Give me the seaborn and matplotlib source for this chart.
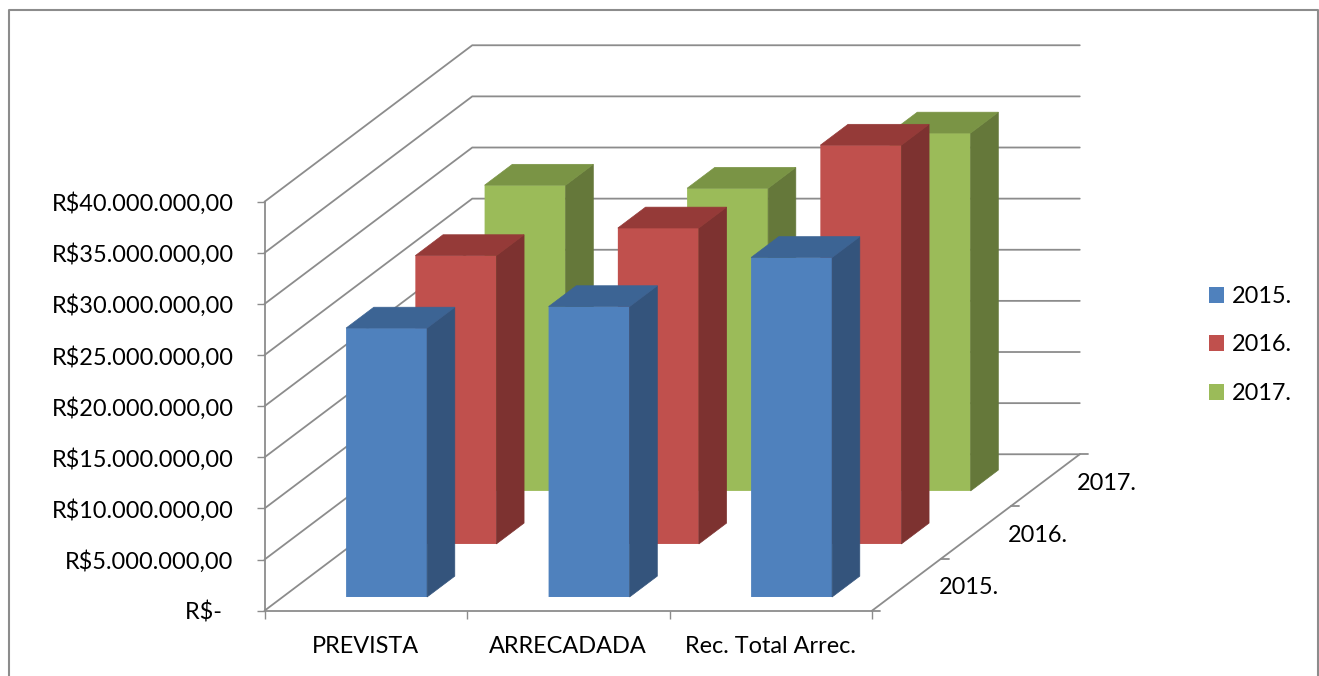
import matplotlib
matplotlib.use("Agg")
import matplotlib.pyplot as plt
from matplotlib.lines import Line2D
from matplotlib.patches import Patch
from matplotlib.transforms import Affine2D
import pandas as pd
import seaborn as sns

categories = ["PREVISTA", "ARRECADADA", "Rec. Total Arrec."]
series_names = ["2015.", "2016.", "2017."]
values_2015 = [26.3e6, 28.4e6, 33.2e6]
values_2016 = [28.2e6, 30.9e6, 39.0e6]
values_2017 = [29.9e6, 29.6e6, 35.0e6]
y_ticks = [0, 5e6, 10e6, 15e6, 20e6, 25e6, 30e6, 35e6, 40e6]
y_tick_labels = ["R$-  ", "R$5.000.000,00", "R$10.000.000,00", "R$15.000.000,00",
                 "R$20.000.000,00", "R$25.000.000,00", "R$30.000.000,00",
                 "R$35.000.000,00", "R$40.000.000,00"]

face_colors = ["#4F81BD", "#C0504D", "#9BBB59"]
top_colors = ["#3C6494", "#953A38", "#7A9445"]
side_colors = ["#34547C", "#7D3230", "#65783A"]
GRID = "#8C8C8C"
TEXT = "#000000"

W, H = 1319, 676
sns.set_style("white")
plt.rcParams["font.family"] = ["Lato", "DejaVu Sans"]
FS = 16.9

fig = plt.figure(figsize=(W / 100, H / 100), dpi=100, facecolor="white")
ax = fig.add_axes([264.5 / W, 1 - 610.7 / H, (872 - 264.5) / W, 409 / H])
ax.patch.set_alpha(0)

# oblique projection: one depth unit, in data units
DX = 0.342
DY = 5.1e6
BAR_START = 0.263
BAR_STEP_X = 1.0
BAR_STEP_Y = 1.017
BAR_DEPTH = 0.40
BAR_NUDGE = 0.013


def proj(x, y, d):
    return x + DX * d, y + DY * d


table = pd.DataFrame({
    "category": categories * 3,
    "series": [n for n in series_names for _ in categories],
    "value": values_2015 + values_2016 + values_2017,
})

# back wall and floor
for v in y_ticks:
    p0 = proj(-0.5, v, 0)
    p1 = proj(-0.5, v, 3)
    p2 = proj(2.5, v, 3)
    ax.plot([p0[0], p1[0], p2[0]], [p0[1], p1[1], p2[1]], color=GRID, lw=1.3,
            clip_on=False, zorder=1, solid_joinstyle="miter")
e0 = proj(2.5, 0, 0)
e1 = proj(2.5, 0, 3)
ax.plot([e0[0], e1[0]], [e0[1], e1[1]], color=GRID, lw=1.3, clip_on=False, zorder=1)

# depth axis ticks and labels
tick_len = 8 / 202.5
for d in range(4):
    p = proj(2.5, 0, d)
    ax.plot([p[0], p[0] + tick_len], [p[1], p[1]], color=GRID, lw=1.3, clip_on=False, zorder=1)
for d, name in enumerate(series_names):
    p = proj(2.5, 0, d + 0.5)
    ax.annotate(name, xy=p, xytext=(62, -3), textcoords="offset pixels", ha="center",
                va="center", fontsize=FS, color=TEXT, annotation_clip=False)

# bars, back series first
z = 3
for s in [2, 1, 0]:
    n_before = len(ax.patches)
    sns.barplot(data=table[table["series"] == series_names[s]], x="category", y="value",
                order=categories, color=face_colors[s], saturation=1, width=0.4,
                errorbar=None, ax=ax, zorder=z)
    shift_x = proj(BAR_NUDGE, 0, s * BAR_STEP_X + BAR_START)[0]
    shift_y = proj(0, 0, s * BAR_STEP_Y + BAR_START)[1]
    bars = list(ax.patches[n_before:])
    for bar in bars:
        left, w, h = bar.get_x(), bar.get_width(), bar.get_height()
        bar.set_transform(Affine2D().translate(shift_x, shift_y) + ax.transData)
        bar.set_clip_on(False)
        bar.set_linewidth(0)
        bar.set_snap(False)
        x0, x1 = left + shift_x, left + w + shift_x
        y0, y1 = shift_y, h + shift_y
        ox, oy = DX * BAR_DEPTH, DY * BAR_DEPTH
        ax.fill([x1, x1 + ox, x1 + ox, x1], [y0, y0 + oy, y1 + oy, y1], facecolor=side_colors[s],
                edgecolor=side_colors[s], lw=0.5, clip_on=False, zorder=z)
        ax.fill([x0, x1, x1 + ox, x0 + ox], [y1, y1, y1 + oy, y1 + oy], facecolor=top_colors[s],
                edgecolor=top_colors[s], lw=0.5, clip_on=False, zorder=z)
    z += 1

ax.set_xlim(-0.5, 2.5)
ax.set_ylim(0, 40e6)
ax.set_xlabel("")
ax.set_ylabel("")
ax.set_yticks(y_ticks, y_tick_labels)
ax.set_xticks([0, 1, 2], categories)
ax.set_xticks([-0.5, 0.5, 1.5, 2.5], minor=True)
ax.tick_params(axis="y", which="major", left=True, length=5.8, width=1, color=GRID, pad=16.5,
               labelsize=FS, labelcolor=TEXT)
ax.tick_params(axis="x", which="major", bottom=False, pad=14.5, labelsize=FS, labelcolor=TEXT)
ax.tick_params(axis="x", which="minor", bottom=True, length=5.8, width=1, color=GRID)
for side in ["top", "right"]:
    ax.spines[side].set_visible(False)
for side in ["left", "bottom"]:
    ax.spines[side].set_color(GRID)
    ax.spines[side].set_linewidth(1.3)
    ax.spines[side].set_zorder(2)
ax.grid(False)

# legend
handles = [Patch(color=c, lw=0, label=n) for c, n in zip(face_colors, series_names)]
fig.legend(handles=handles, loc="center left", bbox_to_anchor=(1202 / W, 1 - 345 / H),
           frameon=False, fontsize=FS, labelcolor=TEXT, handlelength=0.645, handleheight=0.645,
           handletextpad=0.34, labelspacing=1.17, borderpad=0, borderaxespad=0.3)

# chart frame, open at the bottom
fig.add_artist(Line2D([8.5 / W, 8.5 / W, 1318 / W, 1318 / W],
                      [0, 1 - 9.5 / H, 1 - 9.5 / H, 0],
                      transform=fig.transFigure, color="#8C8C8C", lw=1.5))

fig.savefig("out.png", dpi=100, facecolor="white")
